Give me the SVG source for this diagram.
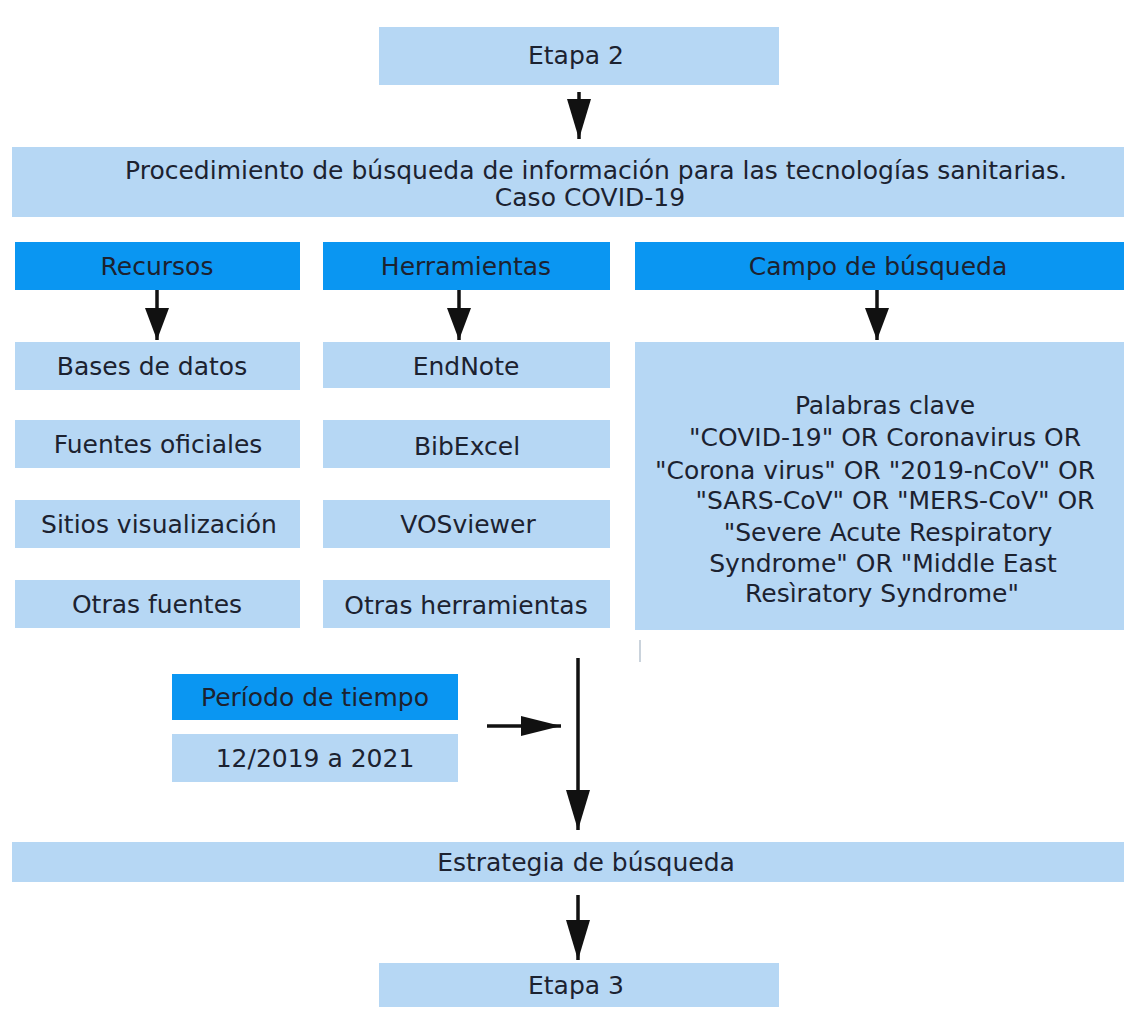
<svg xmlns="http://www.w3.org/2000/svg" width="1134" height="1009" viewBox="0 0 1134 1009">
<style>
.lb{fill:#b6d7f4}
.db{fill:#0a96f2}
text{font-family:"DejaVu Sans","Noto Sans",sans-serif;font-size:25px;fill:#1c2230;text-anchor:middle}
.c{stroke:#111;stroke-width:3.5;fill:none}
</style>
<defs>
<marker id="ah" viewBox="0 0 40 24" refX="40" refY="12" markerWidth="40" markerHeight="24" markerUnits="userSpaceOnUse" orient="auto">
<path d="M0,0 L40,12 L0,24 z" fill="#111"/>
</marker>
<marker id="ahs" viewBox="0 0 32 24" refX="32" refY="12" markerWidth="32" markerHeight="24" markerUnits="userSpaceOnUse" orient="auto">
<path d="M0,0 L32,12 L0,24 z" fill="#111"/>
</marker>
<marker id="ahh" viewBox="0 0 40 20" refX="40" refY="10" markerWidth="40" markerHeight="20" markerUnits="userSpaceOnUse" orient="auto">
<path d="M0,0 L40,10 L0,20 z" fill="#111"/>
</marker>
</defs>
<rect width="1134" height="1009" fill="#fff"/>
<g id="etapa2"><rect class="lb" x="379" y="27" width="400" height="58"/><text x="576" y="64">Etapa 2</text></g>
<g id="procedimiento"><rect class="lb" x="12" y="147" width="1112" height="70"/><text x="596" y="179">Procedimiento de búsqueda de información para las tecnologías sanitarias.</text><text x="590" y="206">Caso COVID-19</text></g>
<g id="recursos"><rect class="db" x="15" y="242" width="285" height="48"/><text x="157" y="275">Recursos</text></g>
<g id="herramientas"><rect class="db" x="323" y="242" width="287" height="48"/><text x="466" y="275">Herramientas</text></g>
<g id="campo"><rect class="db" x="635" y="242" width="489" height="48"/><text x="878" y="275">Campo de búsqueda</text></g>
<g id="bases"><rect class="lb" x="15" y="342" width="285" height="48"/><text x="152" y="375">Bases de datos</text></g>
<g id="fuentes"><rect class="lb" x="15" y="420" width="285" height="48"/><text x="158" y="453">Fuentes oficiales</text></g>
<g id="sitios"><rect class="lb" x="15" y="500" width="285" height="48"/><text x="159" y="533">Sitios visualización</text></g>
<g id="otrasfuentes"><rect class="lb" x="15" y="580" width="285" height="48"/><text x="157" y="613">Otras fuentes</text></g>
<g id="endnote"><rect class="lb" x="323" y="342" width="287" height="46"/><text x="466" y="375">EndNote</text></g>
<g id="bibexcel"><rect class="lb" x="323" y="420" width="287" height="48"/><text x="467" y="455">BibExcel</text></g>
<g id="vosviewer"><rect class="lb" x="323" y="500" width="287" height="48"/><text x="468" y="533">VOSviewer</text></g>
<g id="otrasherramientas"><rect class="lb" x="323" y="580" width="287" height="48"/><text x="466" y="614">Otras herramientas</text></g>
<g id="palabras"><rect class="lb" x="635" y="342" width="489" height="288"/>
<text x="885" y="414">Palabras clave</text>
<text x="885" y="446">"COVID-19" OR Coronavirus OR</text>
<text x="875" y="479">"Corona virus" OR "2019-nCoV" OR</text>
<text x="895" y="509">"SARS-CoV" OR "MERS-CoV" OR</text>
<text x="888" y="541">"Severe Acute Respiratory</text>
<text x="883" y="572">Syndrome" OR "Middle East</text>
<text x="882" y="602">Resìratory Syndrome"</text>
</g>
<line x1="640" y1="640" x2="640" y2="662" stroke="#b8c4d0" stroke-width="1.5"/>
<g id="periodo"><rect class="db" x="172" y="674" width="286" height="46"/><text x="315" y="706">Período de tiempo</text></g>
<g id="fecha"><rect class="lb" x="172" y="734" width="286" height="48"/><text x="315" y="767">12/2019 a 2021</text></g>
<g id="estrategia"><rect class="lb" x="12" y="842" width="1112" height="40"/><text x="586" y="871">Estrategia de búsqueda</text></g>
<g id="etapa3"><rect class="lb" x="379" y="963" width="400" height="44"/><text x="576" y="994">Etapa 3</text></g>
<g id="connectors">
<line class="c" x1="579" y1="92" x2="579" y2="139" marker-end="url(#ah)"/>
<line class="c" x1="157" y1="290" x2="157" y2="340" marker-end="url(#ahs)"/>
<line class="c" x1="459" y1="290" x2="459" y2="340" marker-end="url(#ahs)"/>
<line class="c" x1="877" y1="290" x2="877" y2="340" marker-end="url(#ahs)"/>
<line class="c" x1="487" y1="726" x2="561" y2="726" marker-end="url(#ahh)"/>
<line class="c" x1="578" y1="658" x2="578" y2="830" marker-end="url(#ah)"/>
<line class="c" x1="578" y1="895" x2="578" y2="960" marker-end="url(#ah)"/>
</g>
</svg>
